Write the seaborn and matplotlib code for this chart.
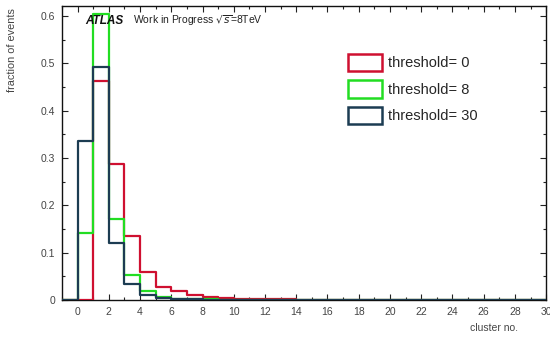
import numpy as np
import pandas as pd
import matplotlib
matplotlib.use("Agg")
import matplotlib.pyplot as plt
import seaborn as sns
from matplotlib.patches import Patch
from matplotlib.ticker import MultipleLocator

sns.set_style("ticks")
plt.rcParams['font.family'] = ['Liberation Sans', 'DejaVu Sans']

# bin lower edges (cluster number) and fractions per threshold
cluster_no = [0, 1, 2, 3, 4, 5, 6, 7, 8, 9, 10, 11, 12, 13, 14]
frac_thr0 = [0.0, 0.463, 0.287, 0.135, 0.060, 0.027, 0.018, 0.011, 0.007, 0.004, 0.003, 0.002, 0.0015, 0.001, 0.0008]
frac_thr8 = [0.141, 0.604, 0.172, 0.053, 0.018, 0.007, 0.003, 0.0015, 0.001, 0.0005, 0.0003, 0.0002, 0.0001, 0.0001, 0.0]
frac_thr30 = [0.337, 0.493, 0.120, 0.033, 0.010, 0.004, 0.002, 0.001, 0.0005, 0.0003, 0.0002, 0.0001, 0.0, 0.0, 0.0]
labels = ["threshold= 0", "threshold= 8", "threshold= 30"]
colors = ["#cf1030", "#22dd22", "#1c3c52"]

rows = []
for lab, vals in zip(labels, [frac_thr0, frac_thr8, frac_thr30]):
    for c, v in zip(cluster_no, vals):
        rows.append({"cluster": c + 0.5, "frac": v, "thr": lab})
df = pd.DataFrame(rows)

fig = plt.figure(figsize=(5.5, 3.42), dpi=100)
ax = fig.add_axes([0.1127, 0.123, 0.993 - 0.1127, 0.982 - 0.123])

for lab, col in zip(labels, colors):
    sub = df[df["thr"] == lab].reset_index(drop=True)
    sns.histplot(data=sub, x="cluster", weights="frac", binwidth=1, binrange=(-1, 30),
                 element="step", fill=False, color=col, linewidth=1.6,
                 ax=ax, zorder=3)

ax.set_xlim(-1, 30)
ax.set_ylim(0, 0.621)
ax.set_xlabel("")
ax.set_ylabel("")
ax.xaxis.set_major_locator(MultipleLocator(2))
ax.xaxis.set_minor_locator(MultipleLocator(1))
ax.yaxis.set_minor_locator(MultipleLocator(0.05))
ax.tick_params(which="both", direction="in", top=True, right=True,
               labelsize=7.5, colors="#222222", labelcolor="#444444")
ax.tick_params(which="major", length=4.5, width=0.8)
ax.tick_params(which="minor", length=2.5, width=0.8)
ax.tick_params(axis="x", which="major", pad=5)
ax.tick_params(axis="y", which="major", pad=5)
ax.set_yticks([0, 0.1, 0.2, 0.3, 0.4, 0.5, 0.6])
ax.set_yticklabels(["0", "0.1", "0.2", "0.3", "0.4", "0.5", "0.6"])
for s in ax.spines.values():
    s.set_linewidth(1.0)
    s.set_color("#111111")

fig.text(12 / 550, 1 - 8 / 342, "fraction of events", rotation=90,
         ha="center", va="top", fontsize=7.8, color="#444444")
fig.text(518 / 550, 1 - 328 / 342, "cluster no.", ha="right", va="center",
         fontsize=7.5, color="#444444")

fig.text(85 / 550, 1 - 21 / 342, "ATLAS", fontsize=8.5, fontweight="bold",
         fontstyle="italic", ha="left", va="center", color="#111111")
fig.text(133 / 550, 1 - 21 / 342, "Work in Progress $\\sqrt{s}$=8TeV", fontsize=7.5,
         ha="left", va="center", color="#222222")

handles = [Patch(facecolor="none", edgecolor=c, linewidth=1.8) for c in colors]
ax.legend(handles, labels, loc="upper left",
          bbox_to_anchor=(348 / 550, 1 - 54 / 342), bbox_transform=fig.transFigure,
          frameon=False, fontsize=10.5,
          handlelength=2.3, handleheight=1.45, labelspacing=0.62, handletextpad=0.45,
          borderaxespad=0, borderpad=0)

fig.savefig("out.png", dpi=100)
